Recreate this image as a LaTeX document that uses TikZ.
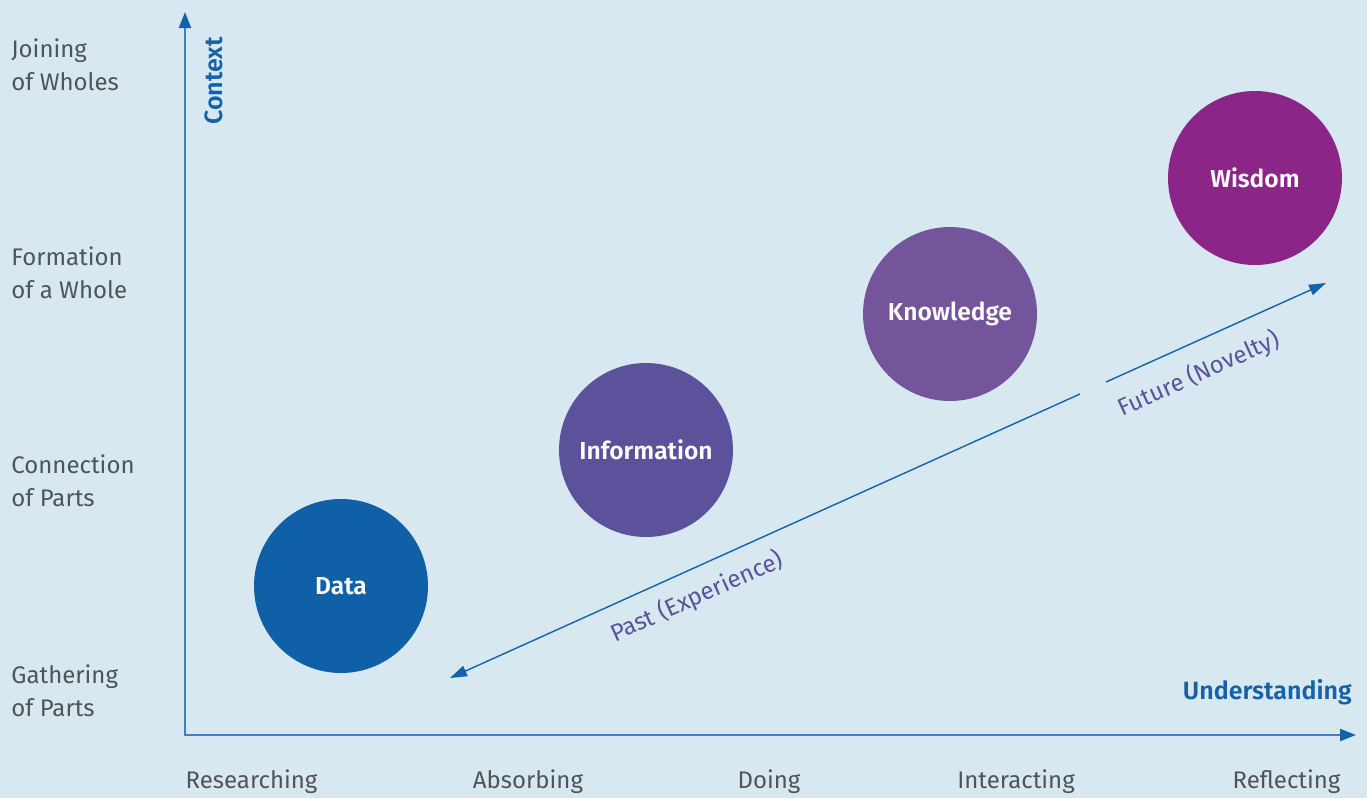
\documentclass[tikz,border=0pt]{standalone}
\usepackage{fontspec}
\setmainfont{Fira Sans}[BoldFont={Fira Sans SemiBold}]
\usetikzlibrary{arrows.meta}
\definecolor{bg}{HTML}{D8E8F1}
\definecolor{axisline}{HTML}{3F80C2}
\definecolor{axistip}{HTML}{1462AA}
\definecolor{cData}{HTML}{1060A8}
\definecolor{cInfo}{HTML}{5C529C}
\definecolor{cKnow}{HTML}{74549A}
\definecolor{cWis}{HTML}{8B2688}
\definecolor{txtgrey}{HTML}{505458}
\definecolor{txtpurple}{HTML}{5C529C}
\tikzset{
  bubble/.style={circle, minimum size=87pt, inner sep=0pt, text=white, font=\fontsize{12.3}{14}\selectfont\bfseries},
  levellabel/.style={anchor=west, align=left, text=txtgrey, font=\fontsize{12}{16.5}\selectfont, inner sep=0pt},
  actlabel/.style={anchor=center, text=txtgrey, font=\fontsize{12}{14}\selectfont, inner sep=0pt},
  axislabel/.style={text=axistip, font=\fontsize{12.5}{14}\selectfont\bfseries, inner sep=0pt},
  timelabel/.style={text=txtpurple, font=\fontsize{12}{14}\selectfont, inner sep=0pt, rotate=24.2},
  axisarrow/.style={draw=axisline, line width=1pt, {Triangle[length=8pt,width=6pt,color=axistip]}-{Triangle[length=8pt,width=6pt,color=axistip]}},
  timearrow/.style={draw=axistip, line width=0.7pt, -{Triangle[length=8.5pt,width=5.5pt,color=axistip]}}
}
\begin{document}
\begin{tikzpicture}[x=0.5pt,y=-0.5pt]
\fill[bg] (0,0) rectangle (1367,798);
\useasboundingbox (0,0) rectangle (1367,798);
% axes
\coordinate (O) at (185,735);
\coordinate (ytip) at (185,12);
\coordinate (xtip) at (1356,735);
\draw[axisarrow] (ytip) -- (O) -- (xtip);
\node[axislabel, rotate=90] (context) at (214,81) {Context};
\node[axislabel, anchor=east] (understanding) at (1352,692) {Understanding};
% level labels
\node[levellabel] (l4) at (11,64.5) {Joining\\of Wholes};
\node[levellabel] (l3) at (11,273) {Formation\\of a Whole};
\node[levellabel] (l2) at (11,481) {Connection\\of Parts};
\node[levellabel] (l1) at (11,690.5) {Gathering\\of Parts};
% activity labels
\node[actlabel] (a1) at (251.5,782) {Researching};
\node[actlabel] (a2) at (528,782) {Absorbing};
\node[actlabel] (a3) at (769,782) {Doing};
\node[actlabel] (a4) at (1016,782) {Interacting};
\node[actlabel] (a5) at (1286.5,782) {Reflecting};
% bubbles
\node[bubble, fill=cData] (data) at (341,586) {Data};
\node[bubble, fill=cInfo] (info) at (646,450) {Information};
\node[bubble, fill=cKnow] (know) at (950,314) {Knowledge};
\node[bubble, fill=cWis] (wis) at (1255,178) {Wisdom};
% time arrow
\coordinate (gapA) at (1080,394);
\coordinate (gapB) at (1106,382);
\coordinate (pastTip) at (450,678);
\coordinate (futTip) at (1326,283);
\draw[timearrow] (gapA) -- (pastTip);
\draw[timearrow] (gapB) -- (futTip);
\node[timelabel] (past) at (697,597) {Past (Experience)};
\node[timelabel] (future) at (1199,374) {Future (Novelty)};
\end{tikzpicture}
\end{document}
